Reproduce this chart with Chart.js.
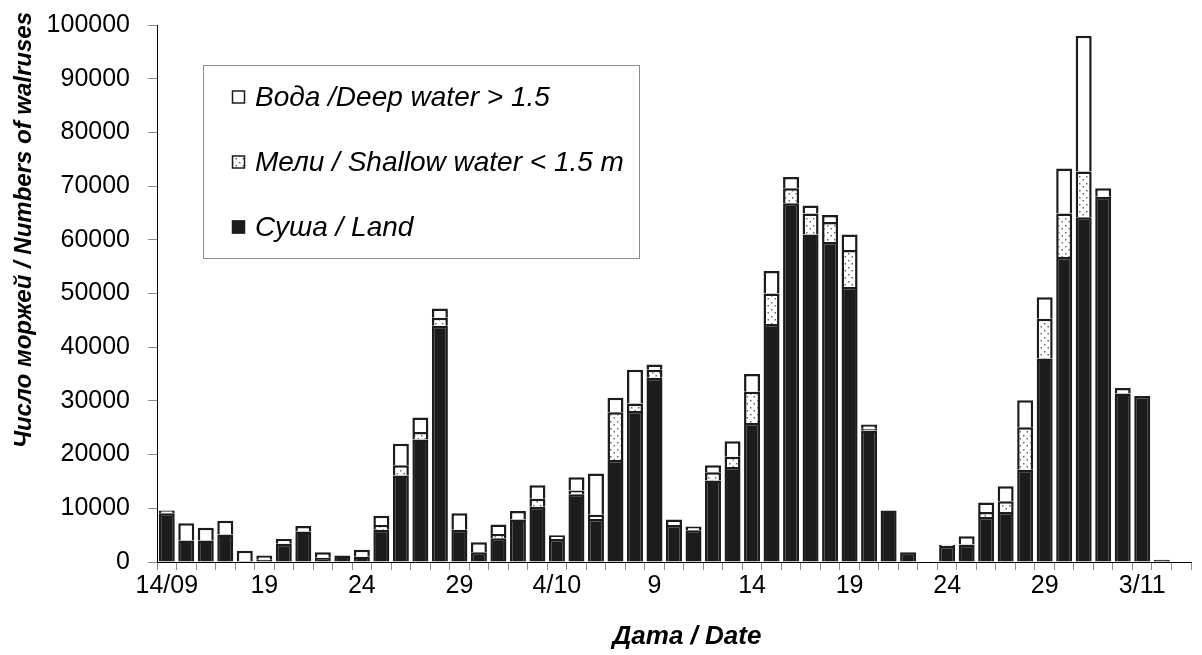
<!DOCTYPE html>
<html>
<head>
<meta charset="utf-8">
<style>
  html, body { margin: 0; padding: 0; background: #fff; }
</style>
</head>
<body>
<canvas id="walrusChart" width="1202" height="655"></canvas>
<script src="https://cdn.jsdelivr.net/npm/chart.js@4.4.1/dist/chart.umd.min.js"></script>
<script>
    // days of the survey, 14 Sep - 5 Nov
    var dates = ['14/09', '15/09', '16/09', '17/09', '18/09', '19/09', '20/09', '21/09', '22/09', '23/09',
        '24/09', '25/09', '26/09', '27/09', '28/09', '29/09', '30/09', '1/10', '2/10', '3/10',
        '4/10', '5/10', '6/10', '7/10', '8/10', '9/10', '10/10', '11/10', '12/10', '13/10',
        '14/10', '15/10', '16/10', '17/10', '18/10', '19/10', '20/10', '21/10', '22/10', '23/10',
        '24/10', '25/10', '26/10', '27/10', '28/10', '29/10', '30/10', '31/10', '1/11', '2/11',
        '3/11', '4/11', '5/11'];

    var tickLabels = ['14/09', '', '', '', '', '19', '', '', '', '',
        '24', '', '', '', '', '29', '', '', '', '',
        '4/10', '', '', '', '', '9', '', '', '', '',
        '14', '', '', '', '', '19', '', '', '', '',
        '24', '', '', '', '', '29', '', '', '', '',
        '3/11', '', ''];

    var land = [9100, 4000, 4000, 5100, 200, 400, 3400, 5700, 800, 1200,
        1000, 6000, 16100, 22800, 44000, 6000, 1800, 4400, 7900, 10300,
        4300, 12600, 8000, 19000, 28100, 34300, 6900, 5900, 15200, 17700,
        25900, 44300, 66800, 61000, 59600, 51200, 24500, 9600, 1800, 0,
        3000, 3200, 8400, 9300, 17200, 37900, 56800, 64200, 68000, 31400,
        30900, 400, 0];

    var shallow = [0, 0, 0, 0, 0, 0, 0, 0, 0, 0,
        0, 900, 1900, 1400, 1500, 0, 0, 800, 0, 1500,
        0, 700, 800, 8900, 1400, 1500, 0, 0, 1500, 1900,
        5800, 5700, 2800, 3900, 3700, 6900, 300, 0, 0, 0,
        0, 100, 900, 2000, 7900, 7400, 8100, 8500, 0, 0,
        0, 0, 0];

    var deep = [500, 3200, 2400, 2600, 1900, 800, 900, 1000, 1000, 0,
        1300, 1700, 4000, 2700, 1700, 3100, 1900, 1800, 1600, 2500,
        700, 2500, 7700, 2700, 6300, 1000, 1000, 700, 1300, 2900,
        3300, 4200, 2100, 1500, 1300, 2900, 800, 0, 0, 0,
        200, 1500, 1800, 2800, 5000, 4000, 8400, 25300, 1600, 1000,
        0, 0, 0];

    var FONT = '"Liberation Sans", Arial, sans-serif';
    var INK = '#1c1c1c';

    function dotPattern(ctx) {
        var c = document.createElement('canvas');
        c.width = 7;
        c.height = 7;
        var g = c.getContext('2d');
        g.fillStyle = '#fff';
        g.fillRect(0, 0, 7, 7);
        g.fillStyle = '#6a6a6a';
        g.fillRect(1, 1, 1.5, 1.5);
        g.fillRect(4.5, 4, 1.5, 1.5);
        return ctx.createPattern(c, 'repeat');
    }

    // legend box inside the plot + axis titles
    var boxLegend = {
        id: 'boxLegend',
        afterDraw: function (chart) {
            var ctx = chart.ctx;
            var rows = [97, 162, 227];
            var sets = chart.data.datasets.slice().reverse();
            ctx.save();
            ctx.fillStyle = '#fff';
            ctx.fillRect(203, 65, 437, 193);
            ctx.strokeStyle = '#8c8c8c';
            ctx.lineWidth = 1;
            ctx.strokeRect(203.5, 65.5, 436, 193);
            sets.forEach(function (ds, i) {
                ctx.fillStyle = ds.backgroundColor;
                ctx.fillRect(232, rows[i] - 6.5, 13, 13);
                ctx.strokeStyle = INK;
                ctx.lineWidth = 1.5;
                ctx.strokeRect(232.5, rows[i] - 6, 12, 12);
                ctx.fillStyle = '#000';
                ctx.font = 'italic 28px ' + FONT;
                ctx.textAlign = 'left';
                ctx.textBaseline = 'middle';
                ctx.fillText(ds.label, 255, rows[i] + 1);
            });

            ctx.fillStyle = '#000';
            ctx.font = 'bold italic 26px ' + FONT;
            ctx.textAlign = 'center';
            ctx.textBaseline = 'middle';
            ctx.fillText('Дата / Date', 687, 637);

            ctx.font = 'bold italic 24px ' + FONT;
            ctx.translate(31, 230);
            ctx.rotate(-Math.PI / 2);
            ctx.textBaseline = 'alphabetic';
            ctx.fillText('Число моржей / Numbers of walruses', 0, 0);
            ctx.restore();
        }
    };

    var canvas = document.getElementById('walrusChart');
    var ctx = canvas.getContext('2d');

    Chart.defaults.font.family = FONT;
    Chart.defaults.color = '#000';

    var chart = new Chart(ctx, {
        type: 'bar',
        data: {
            labels: dates,
            datasets: [{
                label: 'Суша / Land',
                data: land,
                backgroundColor: INK,
                borderColor: INK,
                borderWidth: 2.5
            }, {
                label: 'Мели / Shallow water < 1.5 m',
                data: shallow,
                backgroundColor: dotPattern(ctx),
                borderColor: INK,
                borderWidth: 2.5
            }, {
                label: 'Вода /Deep water > 1.5',
                data: deep,
                backgroundColor: '#fff',
                borderColor: INK,
                borderWidth: 2.5
            }]
        },
        options: {
            responsive: false,
            animation: false,
            layout: {
                padding: {top: 25, right: 11, left: 0, bottom: 0}
            },
            datasets: {
                bar: {categoryPercentage: 1.0, barPercentage: 0.82}
            },
            plugins: {
                legend: {display: false},
                tooltip: {enabled: false}
            },
            scales: {
                x: {
                    stacked: true,
                    grid: {display: true, drawOnChartArea: false, offset: true, color: '#8c8c8c', tickLength: 8},
                    border: {color: '#000', width: 1},
                    ticks: {
                        autoSkip: false, maxRotation: 0, padding: 1,
                        font: {size: 25},
                        callback: function (v, i) {
                            return tickLabels[i];
                        }
                    },
                    afterFit: function (scale) {
                        scale.height = 93;
                        scale.paddingLeft = 0;
                        scale.paddingRight = 0;
                    }
                },
                y: {
                    stacked: true,
                    min: 0,
                    max: 100000,
                    grid: {display: true, drawOnChartArea: false, color: '#8c8c8c', tickLength: 9},
                    border: {color: '#000', width: 1},
                    ticks: {
                        stepSize: 10000, padding: 18,
                        font: {size: 25},
                        callback: function (v) {
                            return String(v);
                        }
                    },
                    afterFit: function (scale) {
                        scale.width = 157;
                        scale.paddingTop = 0;
                        scale.paddingBottom = 0;
                    }
                }
            }
        },
        plugins: [boxLegend]
    });
</script>
</body>
</html>
